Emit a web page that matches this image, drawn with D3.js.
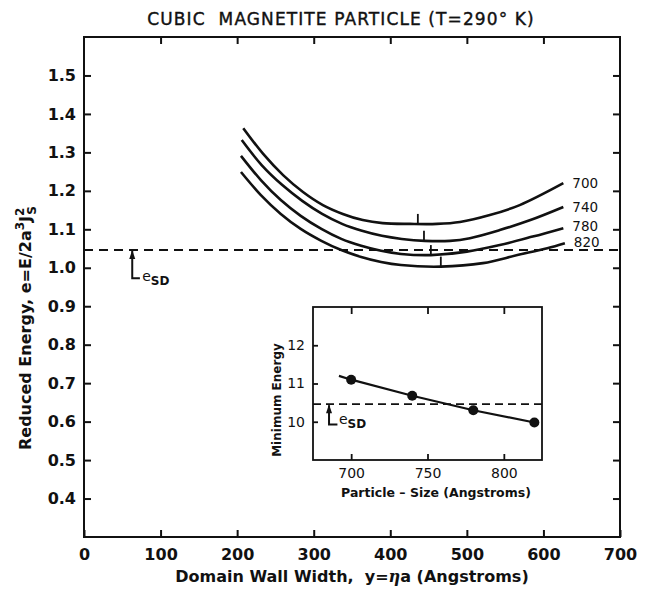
<!DOCTYPE html>
<html>
<head>
<meta charset="utf-8">
<script src="https://cdn.jsdelivr.net/npm/d3@7"></script>
<style>
body { margin: 0; background: #fff; }
text { font-family: "DejaVu Sans", sans-serif; fill: #111; }
</style>
</head>
<body>
<div id="chart"></div>
<script>
// particle sizes (Angstroms), one curve each
var sizes = [700, 740, 780, 820];

// wall width y (Angstroms) and reduced energy e
var width700 = [208, 234, 260, 286, 312, 338, 364, 390, 426, 461, 491, 530, 569, 626];
var energy700 = [1.363, 1.296, 1.241, 1.197, 1.163, 1.140, 1.124, 1.116, 1.114, 1.114, 1.119, 1.137, 1.163, 1.220];
var width740 = [206, 232, 259, 285, 311, 337, 363, 389, 415, 445, 478, 504, 543, 583, 626];
var energy740 = [1.332, 1.267, 1.215, 1.174, 1.140, 1.114, 1.096, 1.083, 1.075, 1.070, 1.070, 1.077, 1.098, 1.124, 1.158];
var width780 = [205, 231, 257, 283, 310, 336, 362, 388, 414, 453, 500, 543, 586, 626];
var energy780 = [1.291, 1.228, 1.176, 1.135, 1.101, 1.075, 1.057, 1.044, 1.036, 1.033, 1.042, 1.059, 1.081, 1.103];
var width820 = [205, 231, 257, 283, 310, 336, 362, 388, 414, 466, 521, 566, 605, 628];
var energy820 = [1.249, 1.189, 1.140, 1.101, 1.070, 1.046, 1.028, 1.015, 1.007, 1.003, 1.012, 1.033, 1.051, 1.064];

// where each curve has its minimum
var minWidth = [436, 444, 453, 466];
var minEnergy = [1.114, 1.070, 1.033, 1.003];

// single domain energy
var eSD = 1.046;

// inset: minimum energy (x10) against particle size
var insetSize = [700, 740, 780, 820];
var insetEnergy = [11.1, 10.68, 10.3, 9.98];
var fitSize = [692, 700, 740, 780, 820];
var fitEnergy = [11.2, 11.1, 10.68, 10.3, 9.98];

var xTicks = [0, 100, 200, 300, 400, 500, 600, 700];
var yTicks = [0.4, 0.5, 0.6, 0.7, 0.8, 0.9, 1.0, 1.1, 1.2, 1.3, 1.4, 1.5];
var insetXTicks = [700, 750, 800];
var insetYTicks = [10, 11, 12];

var W = 653, H = 602;
var svg = d3.select('#chart').append('svg')
    .attr('width', W)
    .attr('height', H);

var x = d3.scaleLinear().domain([0, 700]).range([84, 620]);
var y = d3.scaleLinear().domain([0.3, 1.6]).range([537, 37]);

// title
svg.append('text')
    .attr('x', 341).attr('y', 25)
    .attr('text-anchor', 'middle')
    .style('font-size', '17px')
    .style('letter-spacing', '1.1px')
    .style('white-space', 'pre')
    .attr('stroke', '#111').attr('stroke-width', 0.4)
    .text('CUBIC  MAGNETITE PARTICLE (T=290\u00b0 K)');

// axes, ticks point inward
var bottom = svg.append('g')
    .attr('transform', 'translate(0,537)')
    .call(d3.axisBottom(x).tickValues(xTicks).tickSizeInner(-7).tickSizeOuter(0).tickPadding(12));
var left = svg.append('g')
    .attr('transform', 'translate(84,0)')
    .call(d3.axisLeft(y).tickValues(yTicks).tickSizeInner(-7).tickSizeOuter(0).tickPadding(8)
        .tickFormat(d3.format('.1f')));
svg.append('g')
    .attr('transform', 'translate(0,37)')
    .call(d3.axisTop(x).tickValues(xTicks.slice(1, -1)).tickSizeInner(-7).tickSizeOuter(0).tickFormat(''));
svg.append('g')
    .attr('transform', 'translate(620,0)')
    .call(d3.axisRight(y).tickValues(yTicks).tickSizeInner(-7).tickSizeOuter(0).tickFormat(''));

svg.selectAll('.domain').remove();
svg.selectAll('.tick line').attr('stroke', '#111').attr('stroke-width', 2);
bottom.selectAll('text').style('font-size', '16px').style('font-weight', 'bold').attr('fill', '#111');
left.selectAll('text').style('font-size', '16px').style('font-weight', 'bold').attr('fill', '#111');

svg.append('rect')
    .attr('x', x(0)).attr('y', y(1.6))
    .attr('width', x(700) - x(0)).attr('height', y(0.3) - y(1.6))
    .attr('fill', 'none').attr('stroke', '#111').attr('stroke-width', 2);

// axis titles
svg.append('text')
    .attr('x', 352).attr('y', 582)
    .attr('text-anchor', 'middle')
    .style('font-size', '16px')
    .style('font-weight', 'bold')
    .style('white-space', 'pre')
    .call(function (t) {
        t.append('tspan').text('Domain Wall Width,  y=');
        t.append('tspan').style('font-style', 'italic').style('font-family', 'DejaVu Serif').text('\u03b7');
        t.append('tspan').text('a (Angstroms)');
    });

var ylab = svg.append('text')
    .attr('transform', 'translate(31,328) rotate(-90)')
    .attr('text-anchor', 'middle')
    .style('font-size', '16px')
    .style('font-weight', 'bold');
ylab.append('tspan').text('Reduced Energy,  e=E/2a');
ylab.append('tspan').attr('dy', -7).style('font-size', '12px').text('3');
ylab.append('tspan').attr('dy', 7).text('J');
ylab.append('tspan').attr('dy', -7).style('font-size', '12px').text('2');
ylab.append('tspan').attr('dx', -7).attr('dy', 12).style('font-size', '12px').text('S');

// e_SD dashed line
svg.append('line')
    .attr('x1', x(0)).attr('x2', x(700))
    .attr('y1', y(eSD)).attr('y2', y(eSD))
    .attr('stroke', '#111').attr('stroke-width', 2)
    .attr('stroke-dasharray', '9,6');

// e_SD marker
function esdMark(g, xs, ys, xv, yTop, yBot, xEnd, xText, yText) {
    g.append('path')
        .attr('d', 'M' + xs(xv) + ',' + (ys(yTop) + 1) + 'V' + ys(yBot) + 'H' + xs(xEnd))
        .attr('fill', 'none').attr('stroke', '#111').attr('stroke-width', 2);
    g.append('path')
        .attr('d', 'M' + xs(xv) + ',' + ys(yTop) + 'l-3,9h6z')
        .attr('fill', '#111');
    var t = g.append('text').attr('x', xs(xText)).attr('y', ys(yText)).style('font-size', '14px');
    t.append('tspan').text('e');
    t.append('tspan').attr('dy', 4).style('font-size', '12px').style('font-weight', 'bold').text('SD');
}
esdMark(svg, x, y, 63, eSD, 0.973, 73, 76, 0.966);

// energy curves
var curves = [
    { size: sizes[0], w: width700, e: energy700 },
    { size: sizes[1], w: width740, e: energy740 },
    { size: sizes[2], w: width780, e: energy780 },
    { size: sizes[3], w: width820, e: energy820 }
];
var line = d3.line()
    .x(function (d) { return x(d[0]); })
    .y(function (d) { return y(d[1]); })
    .curve(d3.curveCatmullRom.alpha(0.5));

svg.selectAll('path.curve')
    .data(curves)
    .enter()
    .append('path')
    .attr('class', 'curve')
    .attr('d', function (c) { return line(d3.zip(c.w, c.e)); })
    .attr('fill', 'none')
    .attr('stroke', '#111')
    .attr('stroke-width', 2.6);

// minimum markers
svg.selectAll('line.min')
    .data(minWidth)
    .enter()
    .append('line')
    .attr('class', 'min')
    .attr('x1', function (d) { return x(d); })
    .attr('x2', function (d) { return x(d); })
    .attr('y1', function (d, i) { return y(minEnergy[i]); })
    .attr('y2', function (d, i) { return y(minEnergy[i]) - 10; })
    .attr('stroke', '#111').attr('stroke-width', 1.8);

// curve labels
svg.selectAll('text.size')
    .data(curves)
    .enter()
    .append('text')
    .attr('class', 'size')
    .attr('x', function (c) { return x(c.w[c.w.length - 1]) + 9; })
    .attr('y', function (c, i) { return y(c.e[c.e.length - 1]) + 5 + [0, 0, -2, -1][i]; })
    .style('font-size', '13.5px')
    .text(function (c) { return c.size; });

// inset
var ix = d3.scaleLinear().domain([675, 825]).range([313, 542]);
var iy = d3.scaleLinear().domain([9, 13]).range([460, 307]);
var inset = svg.append('g');

inset.append('rect')
    .attr('x', ix(675)).attr('y', iy(13))
    .attr('width', ix(825) - ix(675)).attr('height', iy(9) - iy(13))
    .attr('fill', '#fff');

var ib = inset.append('g')
    .attr('transform', 'translate(0,' + iy(9) + ')')
    .call(d3.axisBottom(ix).tickValues(insetXTicks).tickSizeInner(-6).tickSizeOuter(0).tickPadding(8));
inset.append('g')
    .attr('transform', 'translate(0,' + iy(13) + ')')
    .call(d3.axisTop(ix).tickValues(insetXTicks).tickSizeInner(-7).tickSizeOuter(0).tickFormat(''));
var il = inset.append('g')
    .attr('transform', 'translate(' + ix(675) + ',0)')
    .call(d3.axisLeft(iy).tickValues(insetYTicks).tickSizeInner(-5).tickSizeOuter(0).tickPadding(8)
        .tickFormat(d3.format('d')));
inset.selectAll('.domain').remove();
inset.selectAll('.tick line').attr('stroke', '#111').attr('stroke-width', 1.8);
ib.selectAll('text').style('font-size', '14px').attr('fill', '#111');
il.selectAll('text').style('font-size', '14px').attr('fill', '#111');

inset.append('rect')
    .attr('x', ix(675)).attr('y', iy(13))
    .attr('width', ix(825) - ix(675)).attr('height', iy(9) - iy(13))
    .attr('fill', 'none').attr('stroke', '#111').attr('stroke-width', 1.8);

inset.append('line')
    .attr('x1', ix(675)).attr('x2', ix(825))
    .attr('y1', iy(eSD * 10)).attr('y2', iy(eSD * 10))
    .attr('stroke', '#111').attr('stroke-width', 1.8)
    .attr('stroke-dasharray', '8,5');

esdMark(inset, ix, iy, 685.5, eSD * 10, 9.93, 691, 692, 9.95);

inset.append('path')
    .attr('d', d3.line()
        .x(function (d) { return ix(d[0]); })
        .y(function (d) { return iy(d[1]); })(d3.zip(fitSize, fitEnergy)))
    .attr('fill', 'none').attr('stroke', '#111').attr('stroke-width', 2.2);

inset.selectAll('circle')
    .data(d3.zip(insetSize, insetEnergy))
    .enter()
    .append('circle')
    .attr('cx', function (d) { return ix(d[0]); })
    .attr('cy', function (d) { return iy(d[1]); })
    .attr('r', 5)
    .attr('fill', '#111');

inset.append('text')
    .attr('x', 436).attr('y', 497)
    .attr('text-anchor', 'middle')
    .style('font-size', '12.5px')
    .style('font-weight', 'bold')
    .text('Particle \u2013 Size (Angstroms)');

inset.append('text')
    .attr('transform', 'translate(281,400) rotate(-90)')
    .attr('text-anchor', 'middle')
    .style('font-size', '12px')
    .style('font-weight', 'bold')
    .text('Minimum Energy');
</script>
</body>
</html>
